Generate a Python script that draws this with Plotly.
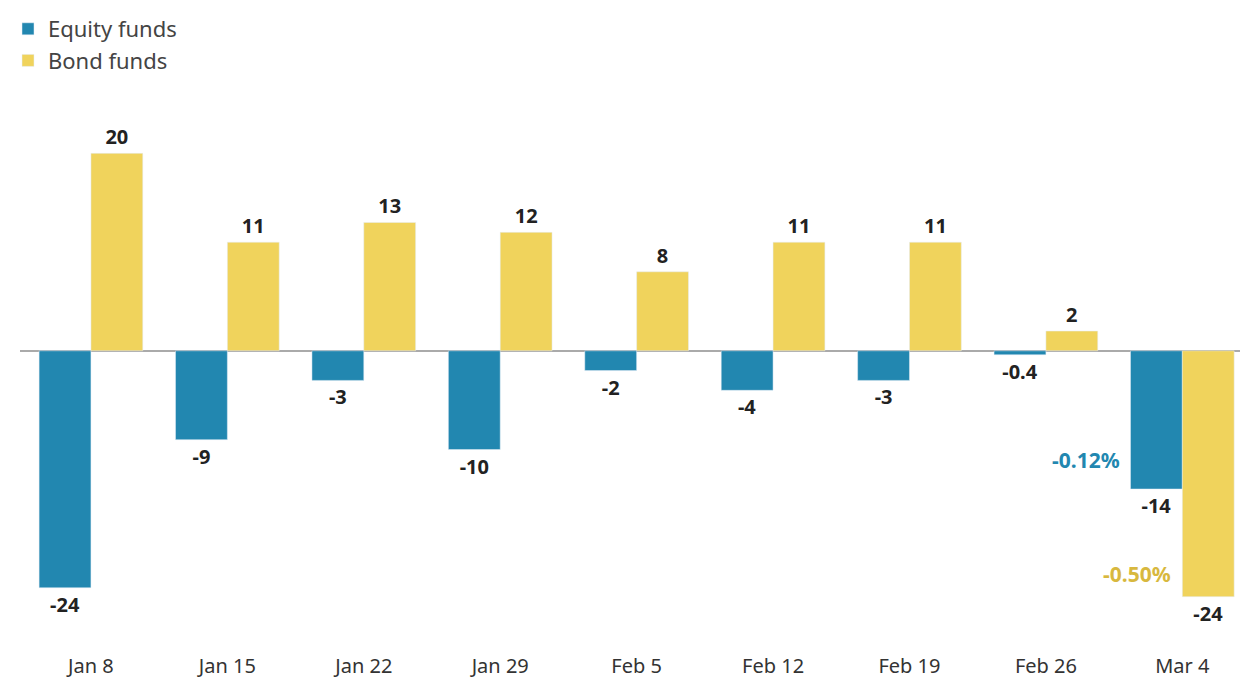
import plotly.graph_objects as go

categories = ["Jan 8", "Jan 15", "Jan 22", "Jan 29", "Feb 5", "Feb 12", "Feb 19", "Feb 26", "Mar 4"]
equity = [-24, -9, -3, -10, -2, -4, -3, -0.4, -14]
bond = [20, 11, 13, 12, 8, 11, 11, 2, -24.9]
equity_labels = ["-24", "-9", "-3", "-10", "-2", "-4", "-3", "-0.4", "-14"]
bond_labels = ["20", "11", "13", "12", "8", "11", "11", "2", "-24"]
equity_pct = "-0.12%"
bond_pct = "-0.50%"

BLUE = "#2287b0"
YELLOW = "#f0d35c"
GOLD = "#d8b83e"
FONT = "Noto Sans"

fig = go.Figure()
fig.add_trace(go.Bar(
    x=categories, y=equity, name="Equity funds", marker_color=BLUE,
    text=equity_labels, textposition="outside", cliponaxis=False,
    textfont=dict(family=FONT, size=20, color="#222", weight="bold"),
))
fig.add_trace(go.Bar(
    x=categories, y=bond, name="Bond funds", marker_color=YELLOW,
    text=bond_labels, textposition="outside", cliponaxis=False,
    textfont=dict(family=FONT, size=20, color="#222", weight="bold"),
))

fig.add_annotation(x=categories[-1], y=equity[-1] * 0.79, text=equity_pct, showarrow=False,
                   xanchor="right", xshift=-60, font=dict(family=FONT, size=21, color=BLUE, weight="bold"))
fig.add_annotation(x=categories[-1], y=bond[-1] * 0.906, text=bond_pct, showarrow=False,
                   xanchor="right", xshift=-9, font=dict(family=FONT, size=21, color=GOLD, weight="bold"))

fig.update_layout(
    width=1248, height=677,
    margin=dict(l=12, r=0, t=93, b=37),
    paper_bgcolor="white", plot_bgcolor="white",
    barmode="group", bargap=0.24, bargroupgap=0,
    font=dict(family=FONT, size=20, color="#333"),
    legend=dict(x=-0.017, y=1.006, xref="paper", yref="container", xanchor="left", yanchor="top",
                orientation="v", font=dict(size=22, color="#444"), bgcolor="rgba(0,0,0,0)",
                tracegroupgap=0, itemwidth=30),
    showlegend=True,
)
fig.update_xaxes(type="category", range=[-0.52, 8.54], showgrid=False, showline=False,
                 ticks="", tickfont=dict(size=20, color="#333"), ticklabelstandoff=4, fixedrange=True)
fig.update_yaxes(range=[-30.1, 25.3], showgrid=False, showticklabels=False, zeroline=True,
                 zerolinecolor="#aaaaaa", zerolinewidth=1.5, fixedrange=True)

fig.write_html("out.html")
